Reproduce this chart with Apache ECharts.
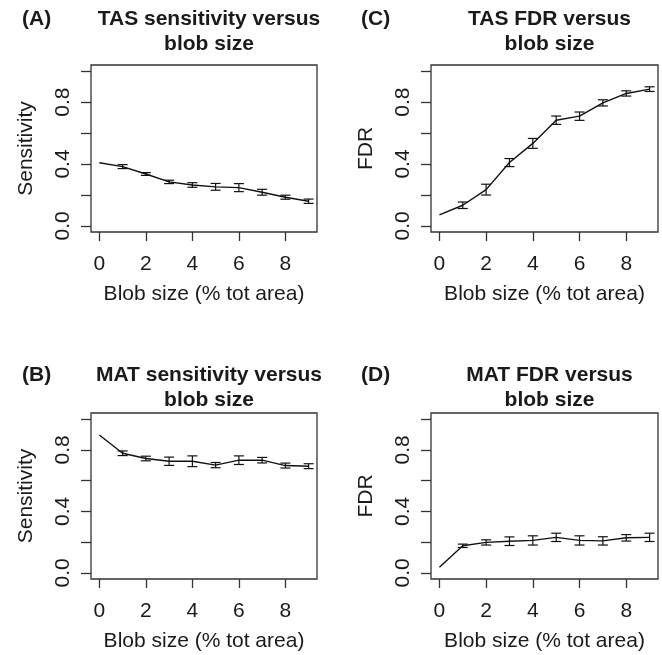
<!DOCTYPE html>
<html>
<head>
<meta charset="utf-8">
<script src="https://cdn.jsdelivr.net/npm/echarts@6.0.0/dist/echarts.min.js"></script>
<style>
html,body{margin:0;padding:0;background:#fff;}
#chart{width:662px;height:655px;}
</style>
</head>
<body>
<div id="chart"></div>
<script>
// ---- data ----
const blobSize = [0, 1, 2, 3, 4, 5, 6, 7, 8, 9];

const tasSensitivity = [0.408, 0.383, 0.335, 0.284, 0.264, 0.252, 0.247, 0.217, 0.185, 0.159];
const tasSensitivityErr = [0, 0.013, 0.009, 0.011, 0.015, 0.022, 0.026, 0.019, 0.013, 0.014];

const tasFDR = [0.071, 0.133, 0.234, 0.409, 0.533, 0.683, 0.709, 0.795, 0.856, 0.884];
const tasFDRErr = [0, 0.021, 0.035, 0.026, 0.032, 0.027, 0.027, 0.02, 0.017, 0.015];

const matSensitivity = [0.897, 0.778, 0.744, 0.726, 0.726, 0.701, 0.733, 0.733, 0.698, 0.694];
const matSensitivityErr = [0, 0.015, 0.015, 0.027, 0.035, 0.017, 0.028, 0.018, 0.016, 0.016];

const matFDR = [0.037, 0.176, 0.198, 0.206, 0.211, 0.231, 0.211, 0.208, 0.228, 0.231];
const matFDRErr = [0, 0.011, 0.017, 0.028, 0.030, 0.027, 0.030, 0.027, 0.021, 0.027];

const xTicks = [0, 2, 4, 6, 8];
const yTicks = [0, 0.2, 0.4, 0.6, 0.8, 1.0];
const yTickLabels = [0, 0.4, 0.8];

const panelLetters = ['(A)', '(C)', '(B)', '(D)'];
const panelTitles = [
  'TAS sensitivity versus\nblob size',
  'TAS FDR versus\nblob size',
  'MAT sensitivity versus\nblob size',
  'MAT FDR versus\nblob size'
];
const yNames = ['Sensitivity', 'FDR', 'Sensitivity', 'FDR'];
const xName = 'Blob size (% tot area)';
const panelValues = [tasSensitivity, tasFDR, matSensitivity, matFDR];
const panelErrors = [tasSensitivityErr, tasFDRErr, matSensitivityErr, matFDRErr];

// ---- layout ----
const FONT = "'Liberation Sans', Arial, Helvetica, sans-serif";
const INK = '#1a1a1a';
const grids = [
  {left: 91, top: 65, width: 226, height: 167},
  {left: 431, top: 65, width: 227, height: 167},
  {left: 91, top: 413, width: 226, height: 166},
  {left: 431, top: 413, width: 227, height: 166}
];
const letterPos = [[17, 2], [356, 2], [17, 358], [356, 358]];

const option = {
  backgroundColor: '#fff',
  animation: false,
  title: [],
  grid: [],
  xAxis: [],
  yAxis: [],
  series: []
};

grids.forEach((g, i) => {
  option.grid.push(Object.assign({show: true, borderColor: '#333', borderWidth: 1.3, backgroundColor: 'transparent'}, g));
  option.title.push({
    text: panelTitles[i],
    left: g.left + g.width / 2,
    top: letterPos[i][1],
    textAlign: 'center',
    textStyle: {fontFamily: FONT, fontSize: 21, fontWeight: 'bold', color: INK, lineHeight: 25}
  });
  option.title.push({
    text: panelLetters[i],
    left: letterPos[i][0],
    top: letterPos[i][1],
    textStyle: {fontFamily: FONT, fontSize: 21, fontWeight: 'bold', color: INK, lineHeight: 25}
  });
  option.xAxis.push({
    type: 'value', gridIndex: i, min: -0.36, max: 9.36,
    name: xName, nameLocation: 'middle', nameGap: 52,
    nameTextStyle: {fontFamily: FONT, fontSize: 21, color: INK},
    axisLine: {show: false, onZero: false},
    axisTick: {show: true, inside: false, length: 9, customValues: xTicks, lineStyle: {color: '#333', width: 1.3}},
    axisLabel: {customValues: xTicks, fontFamily: FONT, fontSize: 21, color: INK, margin: 22},
    splitLine: {show: false}
  });
  option.yAxis.push({
    type: 'value', gridIndex: i, min: -0.04, max: 1.04,
    name: yNames[i], nameLocation: 'middle', nameGap: 54, nameRotate: 90,
    nameTextStyle: {fontFamily: FONT, fontSize: 21, color: INK},
    axisLine: {show: false, onZero: false},
    axisTick: {show: true, inside: false, length: 10, customValues: yTicks, lineStyle: {color: '#333', width: 1.3}},
    axisLabel: {customValues: yTickLabels, rotate: 90, fontFamily: FONT, fontSize: 21, color: INK, margin: 17,
      formatter: v => Number(v).toFixed(1)},
    splitLine: {show: false}
  });
  const vals = panelValues[i];
  const errs = panelErrors[i];
  option.series.push({
    type: 'line', xAxisIndex: i, yAxisIndex: i,
    data: blobSize.map((x, k) => [x, vals[k]]),
    symbol: 'none', silent: true,
    lineStyle: {color: '#111', width: 1.4}
  });
  option.series.push({
    type: 'custom', xAxisIndex: i, yAxisIndex: i, silent: true,
    data: blobSize.map((x, k) => [x, vals[k] - errs[k], vals[k] + errs[k]]).filter((d, k) => errs[k] > 0),
    encode: {x: 0, y: [1, 2]},
    renderItem: function (params, api) {
      const x = api.value(0);
      const lo = api.coord([x, api.value(1)]);
      const hi = api.coord([x, api.value(2)]);
      const w = 5;
      const st = {stroke: '#111', lineWidth: 1.2, fill: null};
      return {
        type: 'group',
        children: [
          {type: 'line', shape: {x1: lo[0], y1: lo[1], x2: hi[0], y2: hi[1]}, style: st},
          {type: 'line', shape: {x1: lo[0] - w, y1: lo[1], x2: lo[0] + w, y2: lo[1]}, style: st},
          {type: 'line', shape: {x1: hi[0] - w, y1: hi[1], x2: hi[0] + w, y2: hi[1]}, style: st}
        ]
      };
    }
  });
});

const chart = echarts.init(document.getElementById('chart'), null, {renderer: 'canvas'});
chart.setOption(option);
</script>
</body>
</html>
